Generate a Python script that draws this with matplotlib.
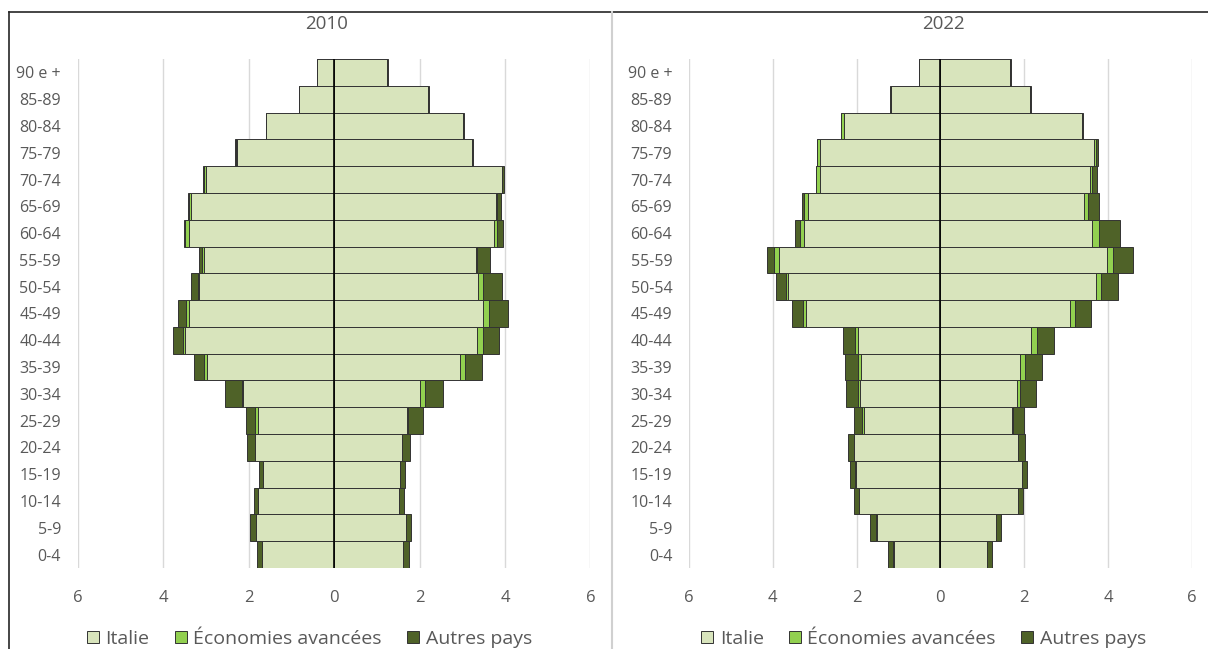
import numpy as np
import matplotlib
matplotlib.use("Agg")
import matplotlib.pyplot as plt
from matplotlib.lines import Line2D
from matplotlib.patches import Patch

plt.rcParams['font.family'] = ['Open Sans', 'DejaVu Sans']

# Age groups, youngest first
ages = ['0-4', '5-9', '10-14', '15-19', '20-24', '25-29', '30-34', '35-39',
        '40-44', '45-49', '50-54', '55-59', '60-64', '65-69', '70-74',
        '75-79', '80-84', '85-89', '90 e +']

# 2010, left side (men), % of population
it_m_2010 = [1.69, 1.83, 1.78, 1.67, 1.86, 1.78, 2.12, 2.97, 3.49, 3.40,
             3.17, 3.04, 3.40, 3.35, 3.00, 2.28, 1.59, 0.82, 0.39]
av_m_2010 = [0.00, 0.00, 0.00, 0.00, 0.00, 0.06, 0.04, 0.07, 0.04, 0.07,
             0.02, 0.05, 0.08, 0.05, 0.05, 0.01, 0.00, 0.00, 0.00]
au_m_2010 = [0.12, 0.13, 0.09, 0.09, 0.17, 0.23, 0.40, 0.24, 0.25, 0.19,
             0.15, 0.08, 0.03, 0.02, 0.01, 0.04, 0.01, 0.01, 0.01]

# 2010, right side (women)
it_f_2010 = [1.62, 1.69, 1.52, 1.54, 1.58, 1.70, 2.02, 2.94, 3.35, 3.49,
             3.37, 3.31, 3.74, 3.79, 3.93, 3.22, 3.01, 2.20, 1.24]
av_f_2010 = [0.00, 0.00, 0.00, 0.00, 0.02, 0.02, 0.11, 0.13, 0.13, 0.13,
             0.12, 0.04, 0.08, 0.02, 0.01, 0.01, 0.00, 0.00, 0.00]
au_f_2010 = [0.14, 0.12, 0.11, 0.13, 0.18, 0.35, 0.43, 0.39, 0.39, 0.44,
             0.45, 0.31, 0.14, 0.10, 0.03, 0.03, 0.02, 0.02, 0.02]

# 2022, left side (men)
it_m_2022 = [1.11, 1.51, 1.94, 2.02, 2.06, 1.83, 1.91, 1.89, 1.97, 3.20,
             3.63, 3.85, 3.26, 3.15, 2.87, 2.87, 2.30, 1.19, 0.51]
av_m_2022 = [0.01, 0.02, 0.01, 0.01, 0.00, 0.04, 0.05, 0.08, 0.06, 0.07,
             0.05, 0.12, 0.08, 0.11, 0.09, 0.08, 0.06, 0.00, 0.00]
au_m_2022 = [0.14, 0.15, 0.11, 0.12, 0.14, 0.19, 0.29, 0.31, 0.29, 0.27,
             0.24, 0.17, 0.12, 0.05, 0.01, 0.00, 0.01, 0.02, 0.00]

# 2022, right side (women)
it_f_2022 = [1.12, 1.32, 1.86, 1.94, 1.85, 1.71, 1.83, 1.90, 2.15, 3.09,
             3.70, 3.97, 3.61, 3.42, 3.56, 3.66, 3.37, 2.13, 1.66]
av_f_2022 = [0.00, 0.00, 0.00, 0.00, 0.00, 0.02, 0.06, 0.12, 0.15, 0.12,
             0.14, 0.15, 0.16, 0.10, 0.05, 0.04, 0.00, 0.00, 0.00]
au_f_2022 = [0.11, 0.13, 0.11, 0.12, 0.16, 0.26, 0.39, 0.41, 0.42, 0.38,
             0.40, 0.46, 0.50, 0.27, 0.13, 0.06, 0.04, 0.04, 0.03]

series_names = ['Italie', 'Économies avancées', 'Autres pays']
colors = ['#d8e4bc', '#92d050', '#4f6228']
edge = '#333333'
grey = '#595959'

fig = plt.figure(figsize=(12.08, 6.49), dpi=100)
ax_l = fig.add_axes([0.0643, 0.1248, 0.4245, 0.7843])
ax_r = fig.add_axes([0.5702, 0.1248, 0.4166, 0.7843])


def pyramid(ax, men, women):
    y = np.arange(len(ages))
    for side, parts in ((-1, men), (1, women)):
        left = np.zeros(len(ages))
        for vals, col in zip(parts, colors):
            vals = np.array(vals)
            ax.barh(y, side * vals, left=side * left, height=1.0, color=col,
                    edgecolor=edge, linewidth=0.7, zorder=2)
            left = left + vals
    ax.axvline(0, color='black', linewidth=1.2, zorder=3)
    ax.set_xlim(-6, 6)
    ax.set_ylim(-0.5, len(ages) - 0.5)
    ax.set_xticks([-6, -4, -2, 0, 2, 4, 6])
    ax.set_xticklabels(['6', '4', '2', '0', '2', '4', '6'])
    ax.set_yticks(y)
    ax.set_yticklabels(ages)
    ax.tick_params(axis='x', length=0, pad=16, labelsize=12, labelcolor=grey)
    ax.tick_params(axis='y', length=0, pad=12, labelsize=11.5, labelcolor=grey)
    ax.grid(axis='x', color='#d9d9d9', linewidth=1.0, zorder=0)
    ax.set_axisbelow(True)
    for s in ax.spines.values():
        s.set_visible(False)


pyramid(ax_l, (it_m_2010, av_m_2010, au_m_2010),
        (it_f_2010, av_f_2010, au_f_2010))
pyramid(ax_r, (it_m_2022, av_m_2022, au_m_2022),
        (it_f_2022, av_f_2022, au_f_2022))

fig.text(0.2705, 0.963, '2010', ha='center', va='center', fontsize=13.5, color=grey)
fig.text(0.781, 0.963, '2022', ha='center', va='center', fontsize=13.5, color=grey)

# One legend under each pyramid
handles = [Patch(facecolor=c, edgecolor=edge, linewidth=0.7) for c in colors]
for cx in (0.2562, 0.7645):
    fig.legend(handles, series_names, loc='center', bbox_to_anchor=(cx, 0.016),
               ncol=3, frameon=False, fontsize=14, labelcolor=grey,
               handlelength=0.6, handleheight=0.6, handletextpad=0.35,
               columnspacing=1.3, borderpad=0)

# Frame lines around the two chart boxes
fig.add_artist(Line2D([0.0075, 1.0], [0.9815, 0.9815], color='#262626', linewidth=1.2))
fig.add_artist(Line2D([0.0075, 0.0075], [0.0, 0.9815], color='#262626', linewidth=1.2))
fig.add_artist(Line2D([0.5066, 0.5066], [0.0, 0.9815], color='#d0d0d0', linewidth=1.5))

fig.savefig('out.png', dpi=100)
